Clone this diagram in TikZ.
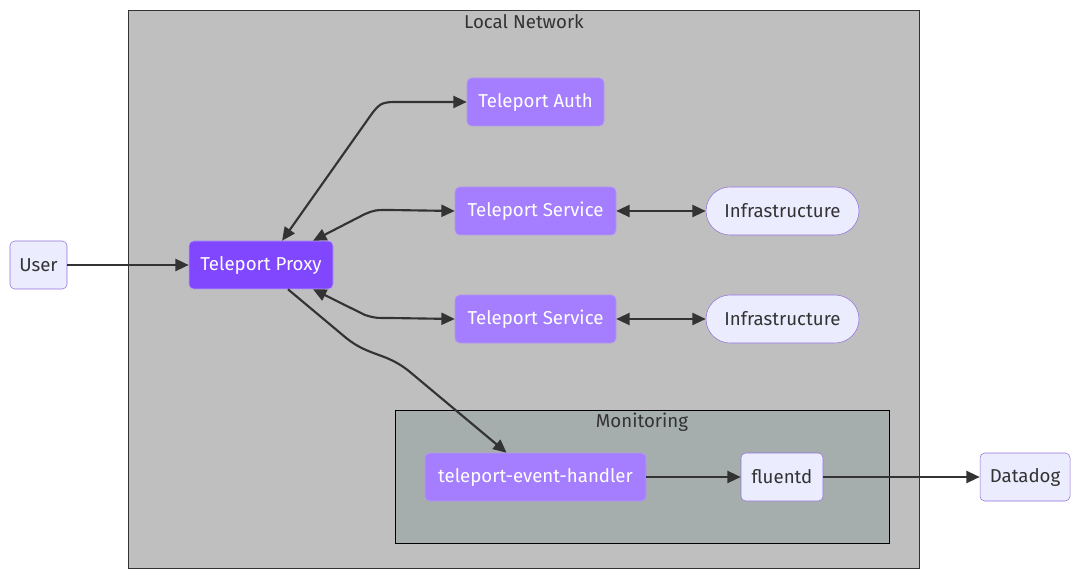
\documentclass[tikz,border=0pt]{standalone}
\usepackage{fontspec}
\setmainfont{Fira Sans}
\usetikzlibrary{shapes,arrows.meta,positioning,calc}
\definecolor{netfill}{HTML}{BFBFBF}
\definecolor{monfill}{HTML}{A5ADAD}
\definecolor{plainfill}{HTML}{ECECFF}
\definecolor{plainline}{HTML}{9370DB}
\definecolor{proxyfill}{HTML}{8047FF}
\definecolor{tpfill}{HTML}{A47EFF}
\definecolor{tpline}{HTML}{B49AF0}
\definecolor{edgecol}{HTML}{333333}

\begin{document}
\begin{tikzpicture}[x=0.75pt, y=-0.75pt,
    box/.style={draw, rectangle, rounded corners=3.5pt, minimum height=36pt, inner sep=0pt, font=\fontsize{14}{16}\selectfont},
    plain/.style={box, fill=plainfill, draw=plainline, text=edgecol},
    tport/.style={box, fill=tpfill, draw=tpline, text=white},
    pill/.style={plain, rounded corners=18pt},
    cluster/.style={draw=edgecol, line width=0.75pt},
    title/.style={font=\fontsize{14}{16}\selectfont, text=edgecol},
    arrow/.style={-{Triangle[length=10pt,width=9pt]}, line width=1.6pt, draw=edgecol},
    twoway/.style={{Triangle[length=10pt,width=9pt]}-{Triangle[length=10pt,width=9pt]}, line width=1.6pt, draw=edgecol}
]
\useasboundingbox (0,0) rectangle (1080,584);

% Subgraphs
\draw[cluster, fill=netfill] (128,11) rectangle (919,568);
\node[title] (netlabel) at (524,22) {Local Network};
\draw[cluster, draw=black, fill=monfill] (395,410) rectangle (889,543);
\node[title] (monlabel) at (642,422) {Monitoring};

% Nodes
\node[plain, minimum width=42.75pt] (user) at (38.5,265) {User};
\node[tport, fill=proxyfill, minimum width=108pt] (proxy) at (261,265) {Teleport Proxy};
\node[tport, minimum width=102.75pt] (auth) at (535.5,102) {Teleport Auth};
\node[tport, minimum width=120.75pt] (svc1) at (535.5,211) {Teleport Service};
\node[tport, minimum width=120.75pt] (svc2) at (535.5,319) {Teleport Service};
\node[pill, minimum width=114.75pt] (infra1) at (782.5,211) {Infrastructure};
\node[pill, minimum width=114.75pt] (infra2) at (782.5,319) {Infrastructure};
\node[tport, minimum width=165.75pt] (handler) at (535.5,477) {teleport-event-handler};
\node[plain, minimum width=61.5pt] (fluentd) at (782,477) {fluentd};
\node[plain, minimum width=67.5pt] (datadog) at (1025,477) {Datadog};

% Edges
\draw[arrow] (user) -- (proxy);
\draw[twoway] (proxy.49) -- (366,122) .. controls (380,102) .. (400,102) -- (auth.west);
\draw[twoway] (proxy.25) -- (365,214) .. controls (375,210) .. (390,210) -- (svc1.west);
\draw[twoway] (proxy.-25) -- (365,315) .. controls (375,318) .. (390,318) -- (svc2.west);
\draw[arrow] (proxy.-42) -- (345,337) .. controls (369,357) and (386,352) .. (410,372) -- (handler.140);
\draw[twoway] (svc1) -- (infra1);
\draw[twoway] (svc2) -- (infra2);
\draw[arrow] (handler) -- (fluentd);
\draw[arrow] (fluentd) -- (datadog);

\end{tikzpicture}
\end{document}
